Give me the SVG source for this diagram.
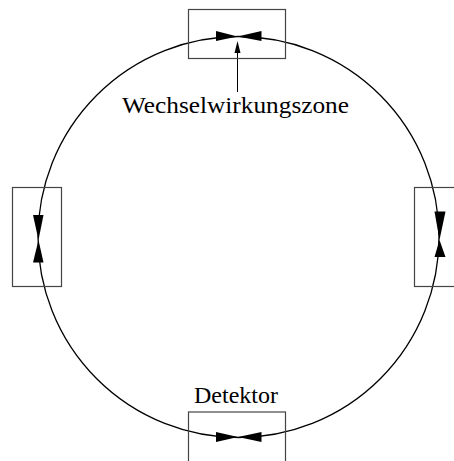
<svg xmlns="http://www.w3.org/2000/svg" width="454" height="461" viewBox="0 0 454 461">
  <style>
    .box { fill: none; stroke: #444; stroke-width: 1.2; }
    .ring { fill: none; stroke: #000; stroke-width: 1.3; }
    .head { fill: #000; stroke: none; }
    .lbl { font-family: "Liberation Serif", "Times New Roman", serif; font-size: 24px; fill: #000; }
    .ptr { stroke: #000; stroke-width: 1; }
  </style>
  <rect width="454" height="461" fill="#fff"/>

  <g id="connectors">
    <circle class="ring" cx="238.5" cy="237" r="200.5"/>
    <line class="ptr" x1="237.5" y1="92" x2="237.5" y2="50"/>
    <polygon class="head" points="237.5,41 234.5,53 240.5,53"/>
  </g>

  <g id="zone-top">
    <rect class="box" x="188.5" y="9.5" width="97" height="49"/>
    <polygon class="head" points="216,31 216,41 237.5,36.5"/>
    <polygon class="head" points="261.5,31 261.5,41 237.5,36.5"/>
  </g>

  <g id="zone-left">
    <rect class="box" x="12.5" y="187.5" width="49" height="99"/>
    <polygon class="head" points="33,215 43.5,215 38.5,240"/>
    <polygon class="head" points="33,262.5 43.5,262.5 38.5,240"/>
  </g>

  <g id="zone-right">
    <rect class="box" x="414.5" y="187.5" width="50" height="99"/>
    <polygon class="head" points="434.5,211.5 445.5,211.5 439.5,240"/>
    <polygon class="head" points="434.5,257 445.5,257 439.5,240"/>
  </g>

  <g id="detector">
    <rect class="box" x="188.5" y="412" width="97" height="60"/>
    <polygon class="head" points="216,432 216,442 238,437"/>
    <polygon class="head" points="261.5,432 261.5,442 238,437"/>
    <text class="lbl" x="236" y="403" text-anchor="middle">Detektor</text>
  </g>

  <g id="label-zone">
    <text class="lbl" x="235.5" y="113" text-anchor="middle" textLength="227" lengthAdjust="spacingAndGlyphs">Wechselwirkungszone</text>
  </g>
</svg>
